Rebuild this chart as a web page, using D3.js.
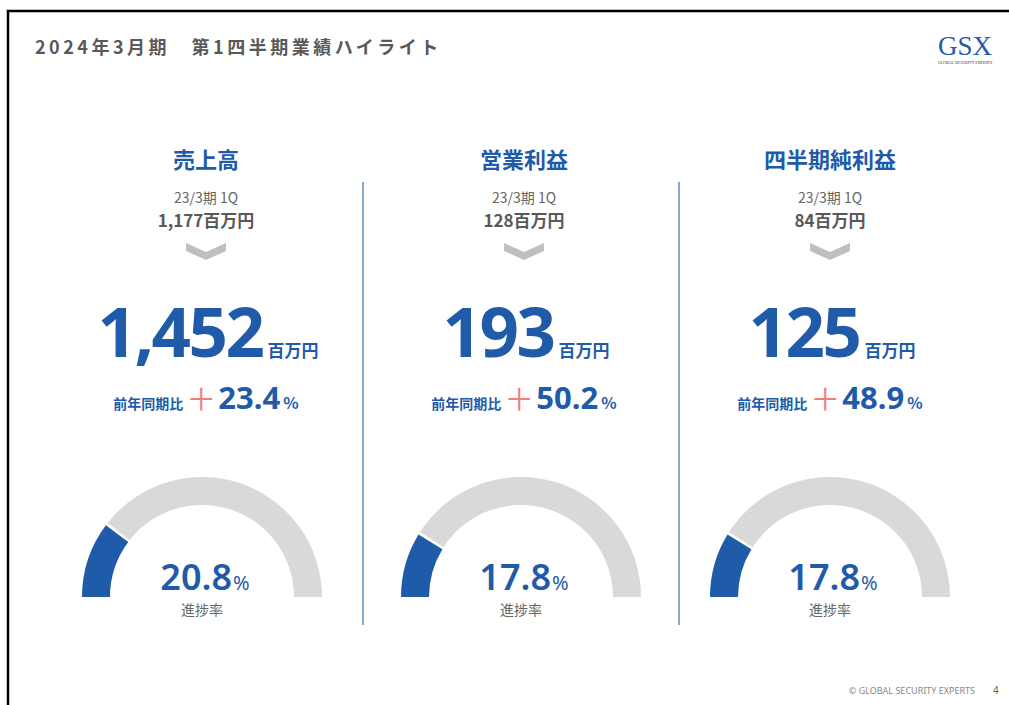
<!DOCTYPE html>
<html>
<head>
<meta charset="utf-8">
<script src="https://cdn.jsdelivr.net/npm/d3@7"></script>
<style>
  body { margin: 0; background: #fff; }
  svg { display: block; font-family: "Noto Sans CJK JP", "Noto Sans", sans-serif; }
</style>
</head>
<body>
<div id="chart"></div>
<script>
var categories = ["売上高", "営業利益", "四半期純利益"];
var prevLabel = "23/3期 1Q";
var prevValues = [1177, 128, 84];
var currValues = [1452, 193, 125];
var growthPct = [23.4, 50.2, 48.9];
var progressPct = [20.8, 17.8, 17.8];

var blue = "#1f5ba8",
    grey = "#d9d9d9",
    textGrey = "#595959";

var svg = d3.select("#chart")
  .append("svg")
  .attr("width", 1009)
  .attr("height", 705);

// slide frame
svg.append("rect")
  .attr("x", 8)
  .attr("y", 11)
  .attr("width", 1010)
  .attr("height", 710)
  .style("fill", "none")
  .style("stroke", "#000")
  .style("stroke-width", 2.5);

svg.append("text")
  .attr("x", 35)
  .attr("y", 54)
  .attr("font-size", "18px")
  .attr("font-weight", "bold")
  .attr("letter-spacing", "3.5px")
  .attr("fill", textGrey)
  .text("2024年3月期　第1四半期業績ハイライト");

// logo
svg.append("text")
  .attr("x", 965)
  .attr("y", 55)
  .attr("text-anchor", "middle")
  .attr("font-family", "Liberation Serif, serif")
  .attr("font-size", "27px")
  .attr("fill", "#1f5ba8")
  .text("GSX");
svg.append("text")
  .attr("x", 965)
  .attr("y", 64)
  .attr("text-anchor", "middle")
  .attr("font-family", "Liberation Serif, serif")
  .attr("font-size", "4px")
  .attr("fill", "#333")
  .text("GLOBAL SECURITY EXPERTS");

// footer
svg.append("text")
  .attr("x", 975)
  .attr("y", 694)
  .attr("text-anchor", "end")
  .attr("font-family", "Noto Sans, sans-serif")
  .attr("font-size", "9px")
  .attr("fill", "#888")
  .text("© GLOBAL SECURITY EXPERTS");
svg.append("text")
  .attr("x", 993)
  .attr("y", 694)
  .attr("font-family", "Noto Sans, sans-serif")
  .attr("font-size", "10px")
  .attr("fill", "#666")
  .text("4");

var xText = d3.scaleOrdinal().domain(categories).range([206, 524, 830]);
var xGauge = d3.scaleOrdinal().domain(categories).range([202, 521, 830]);

// dividers
[363, 679].forEach(function(x) {
  svg.append("line")
    .attr("x1", x).attr("x2", x)
    .attr("y1", 182).attr("y2", 625)
    .style("stroke", "#4a78b8")
    .style("stroke-width", 1.3);
});

var fmt = d3.format(",");
var angle = d3.scaleLinear().domain([0, 100]).range([-Math.PI / 2, Math.PI / 2]);
var arc = d3.arc().innerRadius(92).outerRadius(120);

var cols = svg.selectAll("g.col")
  .data(categories)
  .enter()
  .append("g")
  .attr("class", "col");

cols.append("text")
  .attr("x", function(d) { return xText(d); })
  .attr("y", 168)
  .attr("text-anchor", "middle")
  .attr("font-size", "22px")
  .attr("font-weight", "bold")
  .attr("fill", blue)
  .text(function(d) { return d; });

cols.append("text")
  .attr("x", function(d) { return xText(d); })
  .attr("y", 203)
  .attr("text-anchor", "middle")
  .attr("font-size", "14px")
  .attr("fill", "#666")
  .text(prevLabel);

cols.append("text")
  .attr("x", function(d) { return xText(d); })
  .attr("y", 227)
  .attr("text-anchor", "middle")
  .attr("font-size", "17px")
  .attr("font-weight", "bold")
  .attr("fill", textGrey)
  .text(function(d, i) { return fmt(prevValues[i]) + "百万円"; });

// chevron
cols.append("path")
  .attr("d", function(d) {
    var c = xText(d);
    return "M" + (c - 20) + ",243 L" + c + ",252 L" + (c + 20) + ",243 L" + (c + 20) + ",251 L" +
      c + ",260 L" + (c - 20) + ",251 Z";
  })
  .style("fill", "#bfbfbf");

// big value
var big = cols.append("text")
  .attr("x", function(d) { return xText(d) + 2; })
  .attr("y", 357)
  .attr("text-anchor", "middle")
  .attr("fill", blue)
  .attr("font-weight", "bold");
big.append("tspan")
  .attr("font-family", "Noto Sans, sans-serif")
  .attr("font-size", "69px")
  .attr("letter-spacing", "-2.5px")
  .text(function(d, i) { return fmt(currValues[i]); });
big.append("tspan")
  .attr("font-size", "17px")
  .attr("dx", 5)
  .text("百万円");

// growth
var gr = cols.append("text")
  .attr("x", function(d) { return xText(d); })
  .attr("y", 409)
  .attr("text-anchor", "middle")
  .attr("fill", blue)
  .attr("font-weight", "bold");
gr.append("tspan")
  .attr("font-size", "14px")
  .text("前年同期比");
gr.append("tspan")
  .attr("font-size", "30px")
  .attr("font-weight", "normal")
  .attr("fill", "#f47c7c")
  .attr("dx", 3)
  .attr("dy", 1)
  .text("＋");
gr.append("tspan")
  .attr("font-family", "Noto Sans, sans-serif")
  .attr("font-size", "31px")
  .attr("dx", 2)
  .attr("dy", -1)
  .text(function(d, i) { return d3.format(".1f")(growthPct[i]); });
gr.append("tspan")
  .attr("font-size", "16px")
  .attr("dx", 3)
  .text("%");

// gauges
var gauge = cols.append("g")
  .attr("transform", function(d) { return "translate(" + xGauge(d) + ",597)"; });

gauge.append("path")
  .attr("d", function(d, i) {
    return arc({ startAngle: angle(progressPct[i]) + 0.012, endAngle: angle(100) });
  })
  .style("fill", grey);

gauge.append("path")
  .attr("d", function(d, i) {
    return arc({ startAngle: angle(0), endAngle: angle(progressPct[i]) - 0.012 });
  })
  .style("fill", blue);

var gt = gauge.append("text")
  .attr("x", 3)
  .attr("y", -7)
  .attr("text-anchor", "middle")
  .attr("fill", blue)
  .attr("font-family", "Noto Sans, sans-serif");
gt.append("tspan")
  .attr("font-size", "36px")
  .attr("font-weight", "600")
  .text(function(d, i) { return d3.format(".1f")(progressPct[i]); });
gt.append("tspan")
  .attr("font-size", "20px")
  .attr("dx", 1)
  .text("%");

gauge.append("text")
  .attr("x", 0)
  .attr("y", 18)
  .attr("text-anchor", "middle")
  .attr("font-size", "14px")
  .attr("fill", "#666")
  .text("進捗率");
</script>
</body>
</html>
